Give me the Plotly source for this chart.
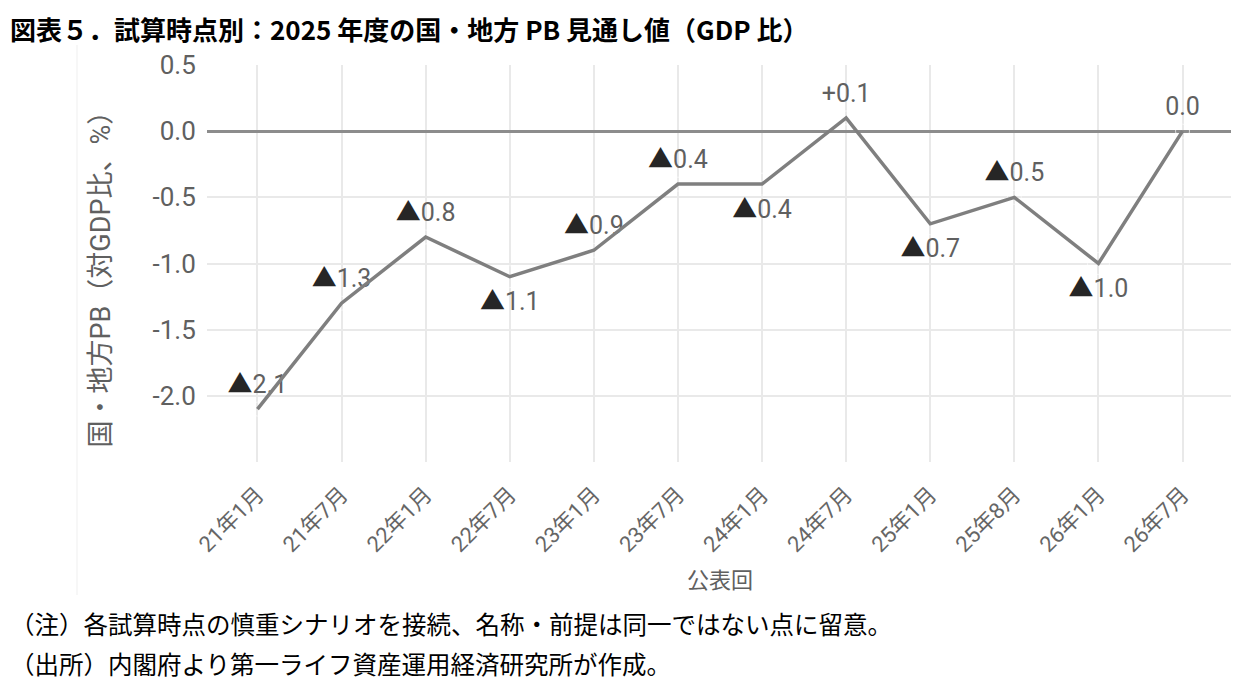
import plotly.graph_objects as go

categories = ["21年1月", "21年7月", "22年1月", "22年7月", "23年1月", "23年7月",
              "24年1月", "24年7月", "25年1月", "25年8月", "26年1月", "26年7月"]
pb_values = [-2.1, -1.3, -0.8, -1.1, -0.9, -0.4, -0.4, 0.1, -0.7, -0.5, -1.0, 0.0]
y_ticks = [-2.0, -1.5, -1.0, -0.5, 0.0, 0.5]
y_tick_labels = ["-2.0", "-1.5", "-1.0", "-0.5", "0.0", "0.5"]

title_text = "図表５．試算時点別：2025 年度の国・地方 PB 見通し値（GDP 比）"
note_text = "（注）各試算時点の慎重シナリオを接続、名称・前提は同一ではない点に留意。"
source_text = "（出所）内閣府より第一ライフ資産運用経済研究所が作成。"
x_title = "公表回"
y_title = "国・地方PB（対GDP比、%）"

label_pos = ["top center", "top center", "top center", "bottom center", "top center",
             "top center", "bottom center", "top center", "bottom center", "top center",
             "bottom center", "top center"]
label_gap = [14 if p.startswith("top") else 22 for p in label_pos]


def fmt(v):
    if v < 0:
        return '<span style="color:#262626">▲</span>%.1f' % abs(v)
    if v > 0:
        return "+%.1f" % v
    return "%.1f" % v


labels = [fmt(v) for v in pb_values]

FONT = "Roboto, 'Noto Sans CJK JP', sans-serif"
JP = "'Noto Sans CJK JP', sans-serif"
GRAY = "#606060"

# page body margin (8px) compensation: reference pixel coords minus O
O = 8
W, H = 1239 - O, 685 - O
L, T, R, B = 207 - O, 65 - O, 1233 - O, 462 - O
PW, PH = R - L, B - T

fig = go.Figure()
fig.add_trace(go.Scatter(
    x=categories, y=pb_values, mode="markers+text", text=labels,
    textposition=label_pos,
    textfont=dict(family=FONT, size=25, color=GRAY),
    marker=dict(size=label_gap, color="rgba(0,0,0,0)"),
    hoverinfo="skip", showlegend=False, cliponaxis=False,
))
fig.add_trace(go.Scatter(
    x=categories, y=pb_values, mode="lines",
    line=dict(color="#7f7f7f", width=3.5),
    showlegend=False,
))

fig.update_layout(
    width=W, height=H,
    margin=dict(l=L, r=W - R, t=T, b=H - B, pad=0),
    paper_bgcolor="white", plot_bgcolor="white",
    font=dict(family=FONT, color=GRAY),
    xaxis=dict(
        type="category", range=[-0.6, 11.6],
        showgrid=True, gridcolor="#e9e9e9", gridwidth=1.5,
        tickangle=-45, tickfont=dict(family=FONT, size=22, color="#666666"),
        ticks="outside", ticklen=10, tickcolor="rgba(0,0,0,0)",
        showline=False, zeroline=False,
    ),
    yaxis=dict(
        range=[-2.5, 0.5], tickvals=y_ticks, ticktext=y_tick_labels,
        showgrid=True, gridcolor="#e9e9e9", gridwidth=1.5,
        zeroline=True, zerolinecolor="#8c8c8c", zerolinewidth=2.5,
        tickfont=dict(family=FONT, size=26, color=GRAY),
        ticks="outside", ticklen=5, tickcolor="rgba(0,0,0,0)",
        showline=False,
    ),
    shapes=[dict(type="line", xref="paper", yref="paper",
                 x0=(77 - O - L) / PW, x1=(77 - O - L) / PW,
                 y0=(B - (595 - O)) / PH, y1=(B - (45 - O)) / PH,
                 line=dict(color="#efefef", width=1))],
    annotations=[
        dict(text=title_text, xref="paper", yref="paper", x=0, y=1,
             xshift=-L, yshift=T, xanchor="left", yanchor="top",
             showarrow=False,
             font=dict(family=JP, size=26, color="#000000", weight="bold")),
        dict(text=y_title, xref="paper", yref="paper", x=0, y=0.5,
             xshift=-(L - (100 - O)), yshift=-9, xanchor="center", yanchor="middle",
             textangle=-90, showarrow=False,
             font=dict(family=FONT, size=27, color=GRAY)),
        dict(text=x_title, xref="paper", yref="paper", x=0.5, y=0,
             yshift=-(578 - 462), xanchor="center", yanchor="middle",
             showarrow=False, font=dict(family=JP, size=22, color=GRAY)),
        dict(text=note_text, xref="paper", yref="paper", x=0, y=0,
             xshift=-L, yshift=-(623 - 462), xanchor="left", yanchor="middle",
             showarrow=False, font=dict(family=JP, size=24.5, color="#000000")),
        dict(text=source_text, xref="paper", yref="paper", x=0, y=0,
             xshift=-L, yshift=-(663 - 462), xanchor="left", yanchor="middle",
             showarrow=False, font=dict(family=JP, size=24.5, color="#000000")),
    ],
)

fig.write_html("out.html")
